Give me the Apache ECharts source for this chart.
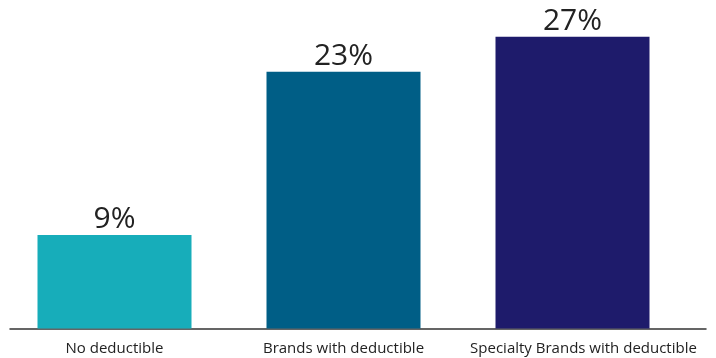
<!DOCTYPE html>
<html>
<head>
<meta charset="utf-8">
<script src="https://cdn.jsdelivr.net/npm/echarts@6/dist/echarts.min.js"></script>
<style>html,body{margin:0;padding:0;background:#fff}#c{width:716px;height:358px}</style>
</head>
<body>
<div id="c"></div>
<script>
var categories = ['No deductible', 'Brands with deductible', 'Specialty Brands with deductible'];
var values = [8.55, 23.45, 26.65];
var colors = ['#17ADBA', '#005E86', '#1E1B6B'];

var chart = echarts.init(document.getElementById('c'), null, {renderer: 'canvas'});
chart.setOption({
  animation: false,
  grid: [
    {left: 0, right: 29, top: 0, bottom: 29.5},
    {left: 10, right: 10, top: 0, bottom: 29.5}
  ],
  xAxis: [
    {
      type: 'category', gridIndex: 0,
      data: categories.map(function (c, i) {
        return i === 2 ? {value: c, textStyle: {padding: [0, 0, 0, 22]}} : c;
      }),
      axisLine: {show: false}, axisTick: {show: false},
      axisLabel: {
        interval: 0, margin: 13, color: '#222', fontSize: 15,
        fontFamily: 'Open Sans'
      }
    },
    {
      type: 'category', gridIndex: 1, data: categories,
      axisLine: {show: true, lineStyle: {color: '#333', width: 1.5}},
      axisTick: {show: false}, axisLabel: {show: false}
    }
  ],
  yAxis: [
    {type: 'value', gridIndex: 0, min: 0, max: 30, show: false},
    {type: 'value', gridIndex: 1, min: 0, max: 30, show: false}
  ],
  series: [{
    type: 'bar', xAxisIndex: 0, yAxisIndex: 0,
    barWidth: 154,
    data: values.map(function (v, i) { return {value: v, itemStyle: {color: colors[i]}}; }),
    label: {
      show: true, position: 'top', distance: 0,
      color: '#222', fontSize: 30, fontFamily: 'Open Sans',
      formatter: function (p) { return Math.round(p.value) + '%'; }
    }
  }]
});
</script>
</body>
</html>
